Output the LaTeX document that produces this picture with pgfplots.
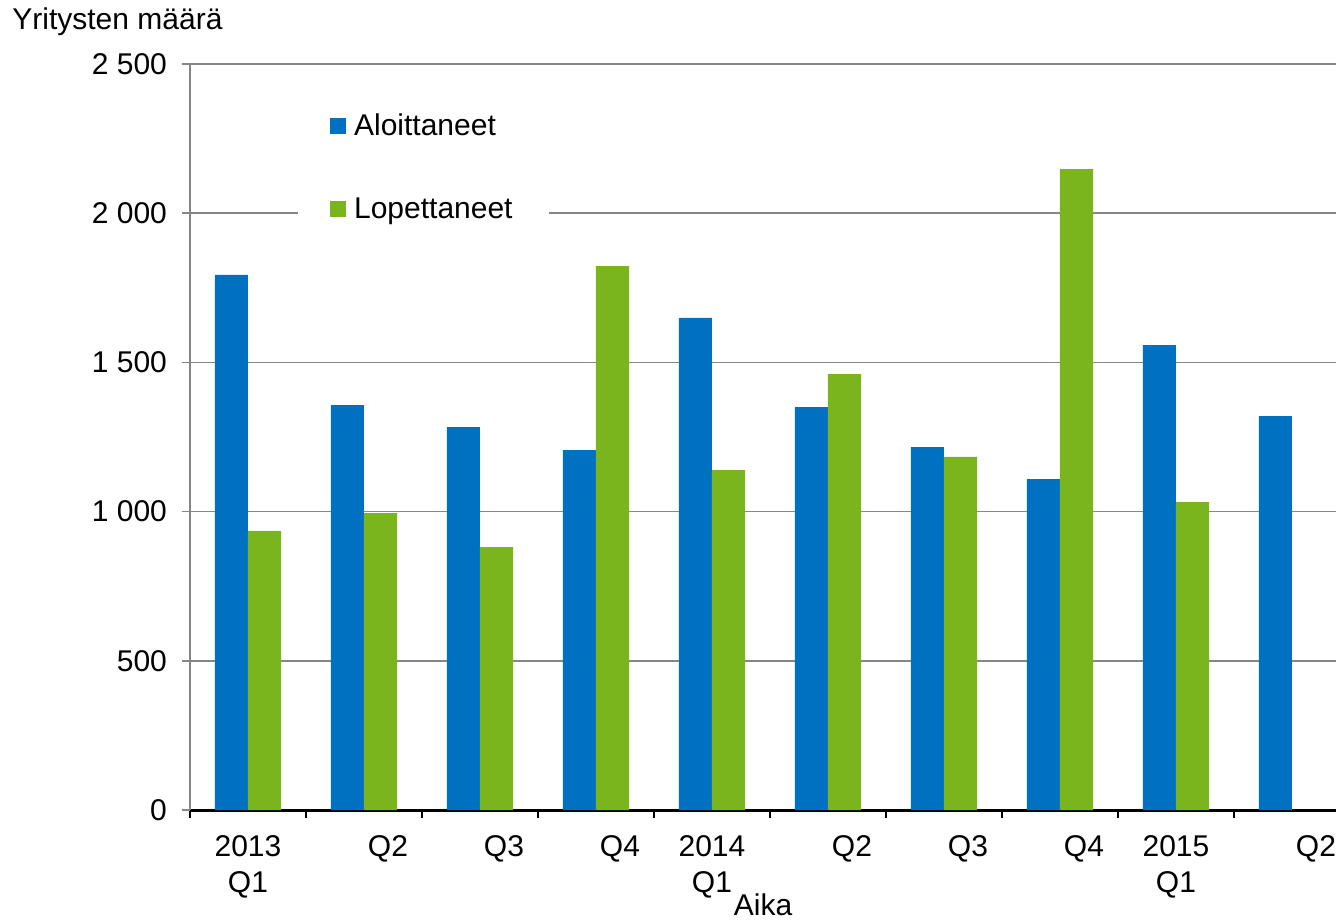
\documentclass[border=0pt]{standalone}
\usepackage{fontspec}
\setmainfont{Liberation Sans}
\usepackage{pgfplots}
\pgfplotsset{compat=1.18}

\definecolor{aloit}{RGB}{0,112,192}
\definecolor{lopet}{RGB}{122,181,29}
\definecolor{gridgray}{RGB}{134,134,134}
% single quarter labels sit a little right of the bar pair
\newcommand{\qs}[1]{\hspace*{24pt}#1}

\begin{document}
\begin{tikzpicture}
\path[use as bounding box] (-95pt,-55pt) rectangle (573pt,405pt);
\begin{axis}[
    scale only axis,
    width=573pt, height=373pt,
    font=\fontsize{15}{18}\selectfont,
    ybar=0pt,
    bar width=0.285,
    xmin=-0.5, xmax=9.38,
    ymin=0, ymax=2500,
    xtick={0,...,9},
    xticklabels={{2013\\Q1},\qs{Q2},\qs{Q3},\qs{Q4},{2014\\Q1},\qs{Q2},\qs{Q3},\qs{Q4},{2015\\Q1},\qs{Q2}},
    xticklabel style={align=center, anchor=north, yshift=-5pt},
    major x tick style={draw=none},
    minor xtick={-0.5,0.5,...,8.5},
    minor x tick style={black, line width=1pt},
    minor tick length=4pt,
    ytick={0,500,1000,1500,2000,2500},
    yticklabels={0,500,1 000,1 500,2 000,2 500},
    yticklabel style={anchor=east, xshift=-4pt},
    major y tick style={gridgray, line width=0.75pt},
    major tick length=4pt,
    tick align=outside,
    ymajorgrids,
    grid style={gridgray, line width=0.75pt},
    axis x line*=bottom,
    axis y line*=left,
    x axis line style={black, line width=1.5pt, -},
    y axis line style={gridgray, line width=0.75pt, -},
    xlabel={Aika},
    xlabel style={at={(rel axis cs:0.5,0)}, anchor=base, yshift=-52.5pt},
    legend style={
      at={(0.094,0.95)}, anchor=north west,
      draw=none, fill=white,
      inner xsep=16pt, inner ysep=4pt,
      row sep=25.5pt,
      font=\fontsize{15}{18}\selectfont,
      legend cell align=left,
      /tikz/every odd column/.append style={column sep=2pt},
    },
    legend image code/.code={\path[#1,draw=none] (0pt,-4pt) rectangle (8pt,4pt);},
  ]

  \addplot[fill=aloit, draw=none] coordinates {
    (0,1793) (1,1357) (2,1283) (3,1206) (4,1649)
    (5,1350) (6,1216) (7,1109) (8,1558) (9,1320)
  };
  \addplot[fill=lopet, draw=none] coordinates {
    (0,935) (1,995) (2,881) (3,1823) (4,1139)
    (5,1461) (6,1183) (7,2148) (8,1032)
  };
  \legend{Aloittaneet, Lopettaneet}
\end{axis}
\node[anchor=base west, inner sep=0pt, font=\fontsize{15}{18}\selectfont] at (-89pt,390pt) {Yritysten määrä};
\end{tikzpicture}
\end{document}
